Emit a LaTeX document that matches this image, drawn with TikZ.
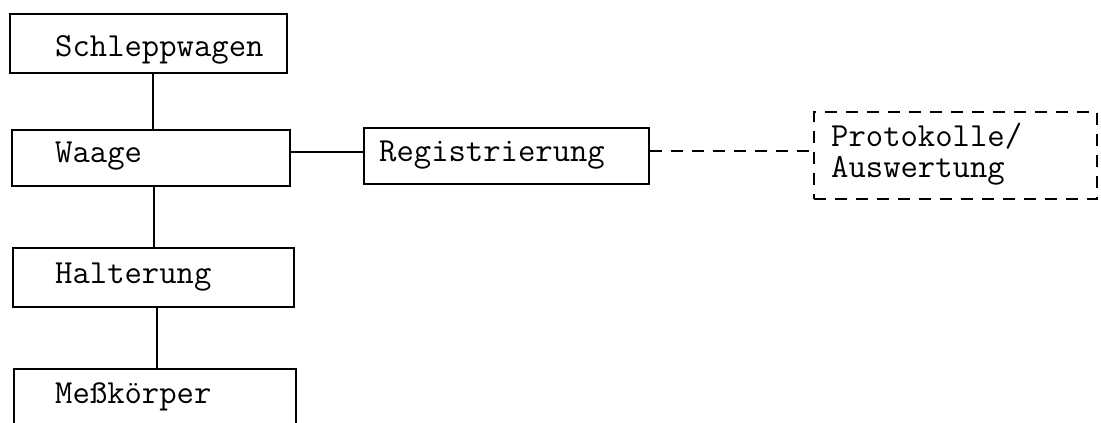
\documentclass[tikz,border=0pt]{standalone}
\usepackage{fontspec}
\begin{document}
\begin{tikzpicture}[x=1pt,y=-1pt,
  box/.style={draw, line width=1.7pt, inner sep=0pt, anchor=north west},
  dbox/.style={box, dash pattern=on 12pt off 9pt},
  lbl/.style={anchor=base west, inner sep=0pt, font=\fontsize{33.7}{31}\selectfont\ttfamily},
  conn/.style={line width=1.7pt},
  dconn/.style={conn, dash pattern=on 12pt off 9pt}]
\clip (0,0) rectangle (1101,423);
\fill[white] (0,0) rectangle (1101,423);
% boxes
\node[box, minimum width=277pt, minimum height=59pt] (s) at (9,13) {};
\node[box, minimum width=278pt, minimum height=56pt] (w) at (11,129) {};
\node[box, minimum width=281pt, minimum height=59pt] (h) at (12,247) {};
\node[box, minimum width=282pt, minimum height=80pt] (m) at (13,368) {};
\node[box, minimum width=285pt, minimum height=56pt] (r) at (363,127) {};
\node[dbox, minimum width=283pt, minimum height=87pt] (p) at (813,111) {};
% labels
\node[lbl] (st) at (55,56) {Schleppwagen};
\node[lbl] (wt) at (55,162) {Waage};
\node[lbl] (ht) at (55,283) {Halterung};
\node[lbl] (mt) at (55,403) {Meßkörper};
\node[lbl] (rt) at (379,161) {Registrierung};
\node[lbl] (pt) at (831,146) {Protokolle/};
\node[lbl] (at) at (831,177) {Auswertung};
% connectors
\coordinate (c1) at (153,0);
\coordinate (c2) at (154,0);
\coordinate (c3) at (157,0);
\coordinate (c4) at (0,152);
\coordinate (c5) at (0,151);
\draw[conn] (s.south -| c1) -- (w.north -| c1);
\draw[conn] (w.south -| c2) -- (h.north -| c2);
\draw[conn] (h.south -| c3) -- (m.north -| c3);
\draw[conn] (w.east |- c4) -- (r.west |- c4);
\draw[dconn] (r.east |- c5) -- (p.west |- c5);
\end{tikzpicture}
\end{document}
